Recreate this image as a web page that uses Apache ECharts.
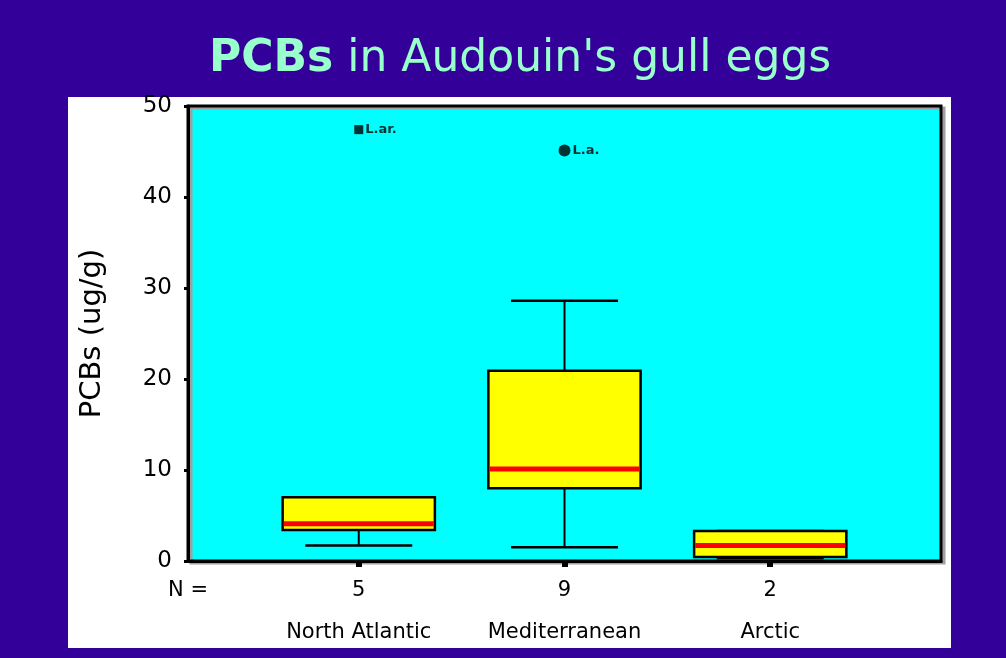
<!DOCTYPE html>
<html>
<head>
<meta charset="utf-8">
<script src="https://cdn.jsdelivr.net/npm/echarts@6/dist/echarts.min.js"></script>
<style>
  html, body { margin: 0; padding: 0; background: #330099; }
  #chart { width: 1006px; height: 658px; }
</style>
</head>
<body>
<div id="chart"></div>
<script>
// values, ug/g
const categories = ['North Atlantic', 'Mediterranean', 'Arctic'];
const nCounts = [5, 9, 2];
const whiskerLow = [1.7, 1.5, 0.3];
const q1 = [3.4, 8.0, 0.45];
const median = [4.1, 10.1, 1.7];
const q3 = [7.0, 20.9, 3.3];
const whiskerHigh = [7.0, 28.6, 3.3];

// outliers
const outlierCat = [0, 1];
const outlierValue = [47.4, 45.1];
const outlierLabel = ['L.ar.', 'L.a.'];
const outlierSymbol = ['rect', 'circle'];

const yTicks = [0, 10, 20, 30, 40, 50];

const font = 'DejaVu Sans';
const xMin = 0.17, xMax = 3.83;

let boxData = categories.map(function (c, i) {
  return [i + 1, whiskerLow[i], q1[i], median[i], q3[i], whiskerHigh[i]];
});
let outlierData = outlierCat.map(function (c, i) {
  return { value: [c + 1, outlierValue[i]], symbol: outlierSymbol[i], symbolSize: outlierSymbol[i] == 'rect' ? 9 : 12 };
});

function renderBox(params, api) {
  let x = api.value(0);
  let lo = api.coord([x, api.value(1)]);
  let b1 = api.coord([x, api.value(2)]);
  let md = api.coord([x, api.value(3)]);
  let b3 = api.coord([x, api.value(4)]);
  let hi = api.coord([x, api.value(5)]);
  let boxW = api.size([0.74, 0])[0];
  let capW = api.size([0.52, 0])[0];
  let cx = lo[0];
  let black = { stroke: '#000', lineWidth: 2 };
  return {
    type: 'group',
    children: [
      { type: 'line', shape: { x1: cx, y1: lo[1], x2: cx, y2: b1[1] }, style: black },
      { type: 'line', shape: { x1: cx, y1: b3[1], x2: cx, y2: hi[1] }, style: black },
      { type: 'line', shape: { x1: cx - capW / 2, y1: lo[1], x2: cx + capW / 2, y2: lo[1] }, style: { stroke: '#000', lineWidth: 2.5 } },
      { type: 'line', shape: { x1: cx - capW / 2, y1: hi[1], x2: cx + capW / 2, y2: hi[1] }, style: { stroke: '#000', lineWidth: 2.5 } },
      { type: 'rect', shape: { x: cx - boxW / 2, y: b3[1], width: boxW, height: b1[1] - b3[1] },
        style: { fill: '#ffff00', stroke: '#000', lineWidth: 2.5 } },
      { type: 'line', shape: { x1: cx - boxW / 2 + 1, y1: md[1], x2: cx + boxW / 2 - 1, y2: md[1] },
        style: { stroke: '#ff0000', lineWidth: 5 } }
    ]
  };
}

let chart = echarts.init(document.getElementById('chart'));

chart.setOption({
  backgroundColor: '#330099',
  animation: false,
  title: {
    text: '{b|PCBs} in Audouin\'s gull eggs',
    left: 204,
    top: 33,
    textStyle: {
      color: '#99ffcc', fontFamily: font, fontSize: 44, fontWeight: 'normal',
      rich: { b: { color: '#99ffcc', fontFamily: font, fontSize: 44, fontWeight: 'bold' } }
    }
  },
  graphic: [
    { type: 'rect', left: 68, top: 97, z: -10, shape: { width: 883, height: 551 }, style: { fill: '#ffffff' } }
  ],
  grid: {
    left: 188, right: 65, top: 106, bottom: 97,
    outerBoundsMode: 'none',
    show: true,
    backgroundColor: '#00ffff',
    borderColor: '#000',
    borderWidth: 3,
    shadowColor: '#a0a0a0',
    shadowOffsetX: 3,
    shadowOffsetY: 2
  },
  xAxis: {
    type: 'value',
    min: xMin,
    max: xMax,
    splitLine: { show: false },
    axisLine: { show: true, lineStyle: { color: '#000', width: 3 } },
    axisTick: { show: true, customValues: [1, 2, 3], length: 6, lineStyle: { color: '#000', width: 6 } },
    axisLabel: {
      customValues: [xMin, 1, 2, 3],
      margin: 12,
      color: '#000',
      fontFamily: font,
      fontSize: 21,
      formatter: function (v) {
        let i = Math.round(v) - 1;
        if (i < 0) return '{n|N =}\n{c| }';
        return '{n|' + nCounts[i] + '}\n{c|' + categories[i] + '}';
      },
      rich: {
        n: { fontFamily: font, fontSize: 21, color: '#000', lineHeight: 36 },
        c: { fontFamily: font, fontSize: 21, color: '#000', lineHeight: 48 }
      }
    }
  },
  yAxis: {
    type: 'value',
    min: yTicks[0],
    max: yTicks[yTicks.length - 1],
    interval: 10,
    name: 'PCBs (ug/g)',
    nameLocation: 'middle',
    nameGap: 81,
    nameMoveOverlap: false,
    nameTextStyle: { color: '#000', fontFamily: font, fontSize: 29 },
    splitLine: { show: false },
    axisLine: { show: true, lineStyle: { color: '#000', width: 3 } },
    axisTick: { show: true, length: 4, lineStyle: { color: '#000', width: 3 } },
    axisLabel: { margin: 16, color: '#000', fontFamily: font, fontSize: 23 }
  },
  series: [
    {
      type: 'custom',
      name: 'PCBs',
      renderItem: renderBox,
      encode: { x: 0, y: [1, 2, 3, 4, 5] },
      data: boxData,
      z: 3
    },
    {
      type: 'scatter',
      name: 'outliers',
      data: outlierData,
      itemStyle: { color: '#000' },
      label: {
        show: true,
        position: 'right',
        distance: 2,
        color: '#000',
        fontFamily: font,
        fontSize: 13,
        fontWeight: 'bold',
        formatter: function (p) { return outlierLabel[p.dataIndex]; }
      },
      z: 4
    }
  ]
});
</script>
</body>
</html>
